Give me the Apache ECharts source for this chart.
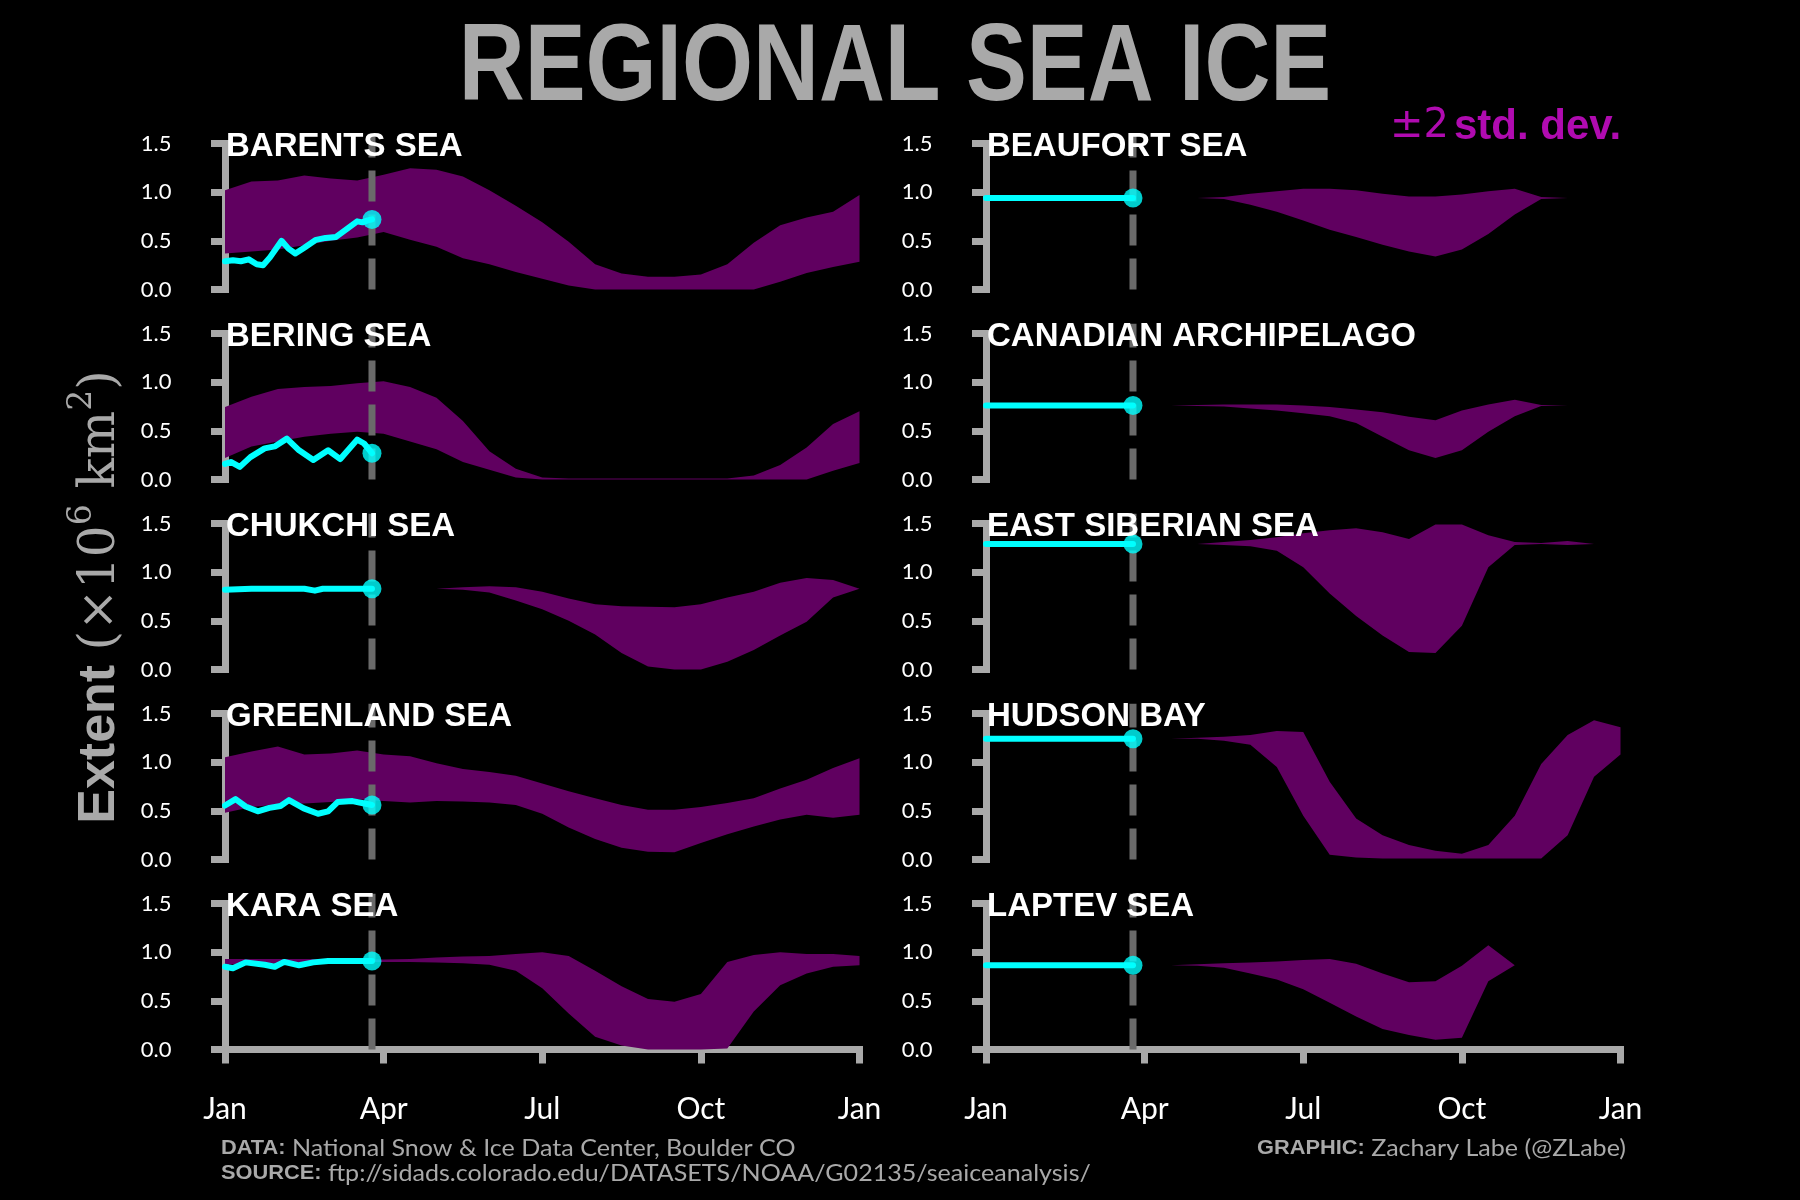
<!DOCTYPE html>
<html>
<head>
<meta charset="utf-8">
<script src="https://cdn.jsdelivr.net/npm/echarts@6/dist/echarts.min.js"></script>
<style>
html,body{margin:0;padding:0;background:#000;}
#c{width:1800px;height:1200px;}
</style>
</head>
<body>
<div id="c"></div>
<script>
// ---------- DATA ----------
// x positions of the climatology band (months since Jan 1)
const months = [0,0.5,1,1.5,2,2.5,3,3.5,4,4.5,5,5.5,6,6.5,7,7.5,8,8.5,9,9.5,10,10.5,11,11.5,12];
const monthTicks = ['Jan','Apr','Jul','Oct','Jan'];
const extentTicks = ['0.0','0.5','1.0','1.5'];
const currentMonth = 2.78; // date of latest observation

// ±2 std. dev. band: upper / lower bound (10^6 km^2)
const barentsUpper  = [1.02,1.11,1.12,1.17,1.14,1.12,1.18,1.245,1.23,1.16,1.02,0.86,0.69,0.49,0.26,0.165,0.13,0.13,0.155,0.26,0.48,0.66,0.74,0.80,0.97];
const barentsLower  = [0.37,0.39,0.41,0.455,0.50,0.535,0.59,0.51,0.44,0.32,0.26,0.18,0.11,0.04,0,0,0,0,0,0,0,0.08,0.17,0.23,0.285];
const beringUpper   = [0.745,0.85,0.93,0.95,0.96,0.99,1.01,0.95,0.84,0.60,0.29,0.11,0.02,0.01,0.01,0.01,0.01,0.01,0.01,0.01,0.04,0.15,0.33,0.57,0.70];
const beringLower   = [0.22,0.34,0.39,0.44,0.47,0.49,0.47,0.39,0.31,0.18,0.10,0.02,0,0,0,0,0,0,0,0,0,0,0,0.09,0.17];
const chukchiUpper  = [0.83,0.83,0.83,0.83,0.83,0.83,0.83,0.83,0.83,0.845,0.855,0.845,0.80,0.73,0.67,0.65,0.645,0.64,0.67,0.74,0.80,0.89,0.94,0.92,0.83];
const chukchiLower  = [0.83,0.83,0.83,0.83,0.83,0.83,0.83,0.83,0.83,0.82,0.79,0.71,0.62,0.50,0.36,0.17,0.03,0,0,0.08,0.20,0.35,0.49,0.74,0.83];
const greenlandUpper= [1.05,1.11,1.16,1.08,1.09,1.12,1.08,1.06,0.99,0.93,0.90,0.86,0.78,0.70,0.63,0.56,0.51,0.51,0.54,0.58,0.63,0.73,0.82,0.94,1.04];
const greenlandLower= [0.48,0.54,0.565,0.575,0.59,0.62,0.60,0.585,0.60,0.595,0.585,0.56,0.47,0.33,0.21,0.12,0.08,0.075,0.17,0.26,0.34,0.41,0.46,0.43,0.46];
const karaUpper     = [0.93,0.93,0.93,0.93,0.93,0.93,0.925,0.93,0.945,0.955,0.96,0.98,1.0,0.96,0.81,0.65,0.52,0.49,0.57,0.90,0.97,1.0,0.98,0.98,0.96];
const karaLower     = [0.87,0.88,0.88,0.89,0.90,0.90,0.90,0.90,0.895,0.885,0.87,0.81,0.63,0.37,0.13,0.04,0,0,0,0.01,0.39,0.66,0.78,0.85,0.865];
const beaufortUpper = [0.94,0.94,0.94,0.94,0.94,0.94,0.94,0.94,0.94,0.95,0.985,1.01,1.035,1.035,1.02,0.985,0.955,0.955,0.975,1.01,1.035,0.95,0.94,0.94,0.94];
const beaufortLower = [0.94,0.94,0.94,0.94,0.94,0.94,0.94,0.94,0.94,0.93,0.87,0.80,0.71,0.615,0.54,0.46,0.39,0.34,0.41,0.57,0.77,0.93,0.94,0.94,0.94];
const canadianUpper = [0.76,0.76,0.76,0.76,0.76,0.76,0.76,0.76,0.765,0.77,0.77,0.77,0.76,0.745,0.72,0.69,0.645,0.61,0.71,0.77,0.82,0.765,0.76,0.76,0.76];
const canadianLower = [0.76,0.76,0.76,0.76,0.76,0.76,0.76,0.76,0.755,0.75,0.73,0.71,0.68,0.65,0.58,0.44,0.30,0.22,0.30,0.49,0.65,0.755,0.76,0.76,0.76];
const eastSibUpper  = [1.29,1.29,1.29,1.29,1.29,1.29,1.29,1.29,1.29,1.31,1.33,1.36,1.40,1.43,1.45,1.41,1.34,1.49,1.49,1.38,1.31,1.30,1.32,1.29,1.29];
const eastSibLower  = [1.29,1.29,1.29,1.29,1.29,1.29,1.29,1.29,1.29,1.28,1.265,1.22,1.05,0.78,0.55,0.35,0.18,0.17,0.45,1.05,1.28,1.29,1.28,1.29,1.29];
const hudsonUpper   = [1.24,1.24,1.24,1.24,1.24,1.24,1.24,1.24,1.25,1.26,1.28,1.32,1.31,0.80,0.42,0.25,0.15,0.09,0.06,0.15,0.45,0.98,1.28,1.43,1.36];
const hudsonLower   = [1.24,1.24,1.24,1.24,1.24,1.24,1.24,1.24,1.24,1.22,1.18,0.95,0.45,0.05,0.02,0.01,0.01,0.01,0.01,0.01,0.01,0.01,0.25,0.85,1.08];
const laptevUpper   = [0.865,0.865,0.865,0.865,0.865,0.865,0.865,0.865,0.875,0.885,0.895,0.905,0.92,0.93,0.88,0.78,0.69,0.70,0.86,1.07,0.865,0.865,0.865,0.865,0.865];
const laptevLower   = [0.865,0.865,0.865,0.865,0.865,0.865,0.865,0.865,0.86,0.84,0.78,0.72,0.62,0.48,0.34,0.21,0.15,0.10,0.12,0.70,0.865,0.865,0.865,0.865,0.865];

// current-year extent [month, value]
const barentsCurrent   = [[0,0.29],[0.15,0.30],[0.3,0.29],[0.45,0.31],[0.6,0.26],[0.72,0.25],[0.85,0.33],[1.07,0.50],[1.2,0.42],[1.33,0.37],[1.5,0.43],[1.72,0.51],[1.9,0.53],[2.1,0.54],[2.3,0.62],[2.5,0.70],[2.6,0.69],[2.7,0.71],[2.78,0.72]];
const beringCurrent    = [[0,0.16],[0.11,0.18],[0.28,0.13],[0.48,0.23],[0.75,0.32],[0.94,0.34],[1.17,0.42],[1.4,0.30],[1.67,0.20],[1.95,0.30],[2.18,0.21],[2.5,0.41],[2.63,0.37],[2.78,0.27]];
const chukchiCurrent   = [[0,0.82],[0.5,0.83],[1.5,0.83],[1.7,0.81],[1.85,0.83],[2.78,0.83]];
const greenlandCurrent = [[0,0.555],[0.2,0.62],[0.39,0.545],[0.62,0.495],[0.84,0.53],[1.05,0.55],[1.21,0.61],[1.49,0.525],[1.76,0.47],[1.95,0.495],[2.13,0.59],[2.41,0.60],[2.59,0.58],[2.78,0.56]];
const karaCurrent      = [[0,0.85],[0.15,0.835],[0.39,0.895],[0.75,0.87],[0.94,0.85],[1.12,0.90],[1.4,0.865],[1.67,0.895],[1.95,0.91],[2.4,0.91],[2.78,0.91]];
const beaufortCurrent  = [[0,0.94],[1.4,0.94],[2.78,0.94]];
const canadianCurrent  = [[0,0.76],[1.4,0.76],[2.78,0.76]];
const eastSibCurrent   = [[0,1.29],[1.4,1.29],[2.78,1.29]];
const hudsonCurrent    = [[0,1.24],[1.4,1.24],[2.78,1.24]];
const laptevCurrent    = [[0,0.865],[1.4,0.865],[2.78,0.865]];

const panels = [
  {name:'BARENTS SEA', up:barentsUpper, lo:barentsLower, cur:barentsCurrent, col:0, row:0},
  {name:'BERING SEA', up:beringUpper, lo:beringLower, cur:beringCurrent, col:0, row:1},
  {name:'CHUKCHI SEA', up:chukchiUpper, lo:chukchiLower, cur:chukchiCurrent, col:0, row:2},
  {name:'GREENLAND SEA', up:greenlandUpper, lo:greenlandLower, cur:greenlandCurrent, col:0, row:3},
  {name:'KARA SEA', up:karaUpper, lo:karaLower, cur:karaCurrent, col:0, row:4},
  {name:'BEAUFORT SEA', up:beaufortUpper, lo:beaufortLower, cur:beaufortCurrent, col:1, row:0},
  {name:'CANADIAN ARCHIPELAGO', up:canadianUpper, lo:canadianLower, cur:canadianCurrent, col:1, row:1},
  {name:'EAST SIBERIAN SEA', up:eastSibUpper, lo:eastSibLower, cur:eastSibCurrent, col:1, row:2},
  {name:'HUDSON BAY', up:hudsonUpper, lo:hudsonLower, cur:hudsonCurrent, col:1, row:3},
  {name:'LAPTEV SEA', up:laptevUpper, lo:laptevLower, cur:laptevCurrent, col:1, row:4}
];

// ---------- LAYOUT / STYLE ----------
const colLeft = [225, 986];
const plotW = 634.5, plotH = 146, rowTop0 = 143.5, rowStep = 190;
const spineColor = '#a9a9a9';
const bandColor = '#600060';
const cyan = '#00ffff';
const dashColor = '#6a6a6a';
const tickFont = 'Lato, "Open Sans", sans-serif';
const boldFont = '"Liberation Sans", Arial, sans-serif';

const grids = [], xAxes = [], yAxes = [], series = [], titles = [];

panels.forEach((p, i) => {
  grids.push({left: colLeft[p.col], top: rowTop0 + rowStep * p.row, width: plotW, height: plotH});
  xAxes.push({
    gridIndex: i, type: 'value', min: 0, max: 12, interval: 3,
    show: p.row === 4, offset: 21.5,
    axisLine: {show: true, lineStyle: {color: spineColor, width: 7, cap: 'square'}},
    axisTick: {show: true, length: 14, lineStyle: {color: spineColor, width: 7}},
    axisLabel: {color: '#ffffff', fontSize: 30, fontFamily: tickFont, margin: 23,
      formatter: v => monthTicks[Math.round(v / 3)]},
    splitLine: {show: false}
  });
  yAxes.push({
    gridIndex: i, type: 'value', min: 0, max: 1.5, interval: 0.5, offset: 21.5,
    axisLine: {show: true, lineStyle: {color: spineColor, width: 7, cap: 'square'}},
    axisTick: {show: true, length: 14, lineStyle: {color: spineColor, width: 7}},
    axisLabel: {color: '#ffffff', fontSize: 22, fontFamily: tickFont, margin: 32,
      formatter: v => extentTicks[Math.round(v / 0.5)]},
    splitLine: {show: false}
  });
  // ±2 std. dev. band as one polygon, positioned through the axes
  series.push({
    type: 'custom', xAxisIndex: i, yAxisIndex: i, silent: true, z: 2,
    data: months.map((m, k) => [m, p.lo[k], p.up[k]]),
    encode: {x: 0, y: [1, 2]},
    renderItem: (params, api) => {
      if (params.dataIndex !== 0) return null;
      const pts = [];
      for (let k = 0; k < months.length; k++) pts.push(api.coord([months[k], p.up[k]]));
      for (let k = months.length - 1; k >= 0; k--) pts.push(api.coord([months[k], p.lo[k]]));
      return {type: 'polygon', shape: {points: pts}, style: {fill: bandColor}};
    }
  });
  // dashed "today" line
  series.push({
    type: 'line', xAxisIndex: i, yAxisIndex: i, silent: true, clip: false,
    symbol: 'none', z: 3,
    lineStyle: {color: dashColor, width: 7, type: [31, 13], cap: 'butt'},
    data: [[currentMonth, 0], [currentMonth, 1.6]]
  });
  series.push({
    type: 'line', xAxisIndex: i, yAxisIndex: i, silent: true,
    symbol: 'none', z: 4,
    lineStyle: {color: cyan, width: 6, cap: 'round', join: 'round'},
    data: p.cur
  });
  series.push({
    type: 'scatter', xAxisIndex: i, yAxisIndex: i, silent: true, z: 5,
    symbol: 'circle', symbolSize: 19, itemStyle: {color: cyan},
    data: [p.cur[p.cur.length - 1]]
  });
  titles.push({
    text: p.name, left: colLeft[p.col] + 1, top: 130 + rowStep * p.row, padding: 0, z: 20,
    textStyle: {color: '#ffffff', fontSize: 33, fontWeight: 'bold', fontFamily: boldFont}
  });
});

// legend-like annotation
titles.push({
  text: '{a|±2} {b|std. dev.}', left: 1390, top: 106, padding: 0, z: 20,
  textStyle: {rich: {
    a: {color: '#b00bb0', fontSize: 40, fontFamily: '"DejaVu Sans", sans-serif', fontWeight: 'normal'},
    b: {color: '#b00bb0', fontSize: 42, fontFamily: boldFont, fontWeight: 'bold'}
  }}
});

// footer
const footRich = {
  b: {fill: spineColor, fontSize: 20, fontWeight: 'bold', fontFamily: boldFont, lineHeight: 25},
  r: {fill: spineColor, fontSize: 23, fontWeight: 'normal', fontFamily: tickFont, lineHeight: 25}
};

const option = {
  backgroundColor: '#000000',
  animation: false,
  title: titles,
  grid: grids,
  xAxis: xAxes,
  yAxis: yAxes,
  series: series,
  graphic: [
    {
      type: 'text', x: 895, y: 70, scaleX: 0.83, z: 20,
      style: {
        text: 'REGIONAL SEA ICE', align: 'center', verticalAlign: 'middle',
        fill: spineColor, fontSize: 110, fontWeight: 'bold', fontFamily: boldFont
      }
    },
    {
      type: 'text', x: 96, y: 597, rotation: Math.PI / 2, z: 20,
      style: {
        text: '{b|Extent }{s|(×10}{u|6}{s| km}{u|2}{s|)}',
        align: 'center', verticalAlign: 'middle', fill: spineColor,
        rich: {
          b: {fill: spineColor, fontSize: 52, fontWeight: 'bold', fontFamily: boldFont, lineHeight: 60, verticalAlign: 'bottom'},
          s: {fill: spineColor, fontSize: 50, fontFamily: '"DejaVu Serif", serif', lineHeight: 60, verticalAlign: 'bottom'},
          u: {fill: spineColor, fontSize: 33, fontFamily: '"DejaVu Serif", serif', lineHeight: 60, verticalAlign: 'top'}
        }
      }
    },
    {
      type: 'text', x: 221, y: 1136, scaleX: 1.09, z: 20,
      style: {
        text: '{b|DATA:}{r| National Snow & Ice Data Center, Boulder CO}\n{b|SOURCE:}{r| ftp://sidads.colorado.edu/DATASETS/NOAA/G02135/seaiceanalysis/}',
        align: 'left', verticalAlign: 'top', fill: spineColor, rich: footRich
      }
    },
    {
      type: 'text', x: 1626, y: 1136, scaleX: 1.09, z: 20,
      style: {
        text: '{b|GRAPHIC:}{r| Zachary Labe (@ZLabe)}',
        align: 'right', verticalAlign: 'top', fill: spineColor, rich: footRich
      }
    }
  ]
};

const chart = echarts.init(document.getElementById('c'), null, {renderer: 'canvas'});
chart.setOption(option);
</script>
</body>
</html>
